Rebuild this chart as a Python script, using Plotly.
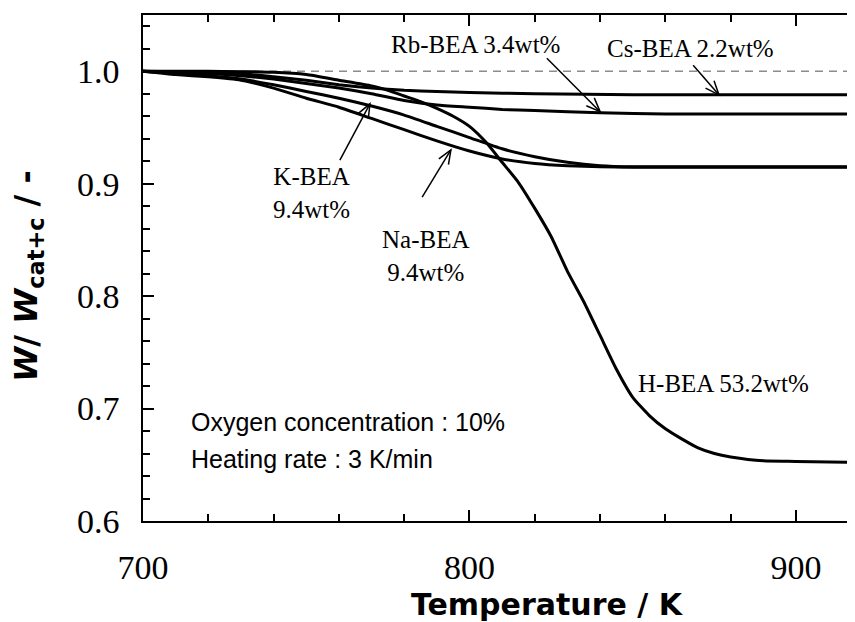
import math
import plotly.graph_objects as go

# ---- data ----
T_H = [700, 720, 740, 750, 760, 770, 775, 780, 785, 790, 795, 800, 805, 810, 815, 820, 825, 830, 835, 840, 845, 850, 855, 860, 865, 870, 875, 880, 890, 900, 920]
W_H = [1.000, 1.000, 0.999, 0.997, 0.992, 0.987, 0.983, 0.978, 0.973, 0.967, 0.960, 0.951, 0.937, 0.919, 0.901, 0.878, 0.853, 0.822, 0.795, 0.765, 0.735, 0.710, 0.694, 0.682, 0.673, 0.665, 0.660, 0.657, 0.6535, 0.653, 0.652]

T_Cs = [700, 720, 730, 740, 750, 760, 770, 780, 790, 800, 820, 850, 920]
W_Cs = [1.000, 0.999, 0.998, 0.995, 0.992, 0.988, 0.985, 0.983, 0.982, 0.981, 0.980, 0.979, 0.979]

T_Rb = [700, 720, 730, 740, 750, 760, 770, 780, 790, 800, 810, 820, 840, 860, 920]
W_Rb = [1.000, 0.998, 0.996, 0.993, 0.989, 0.985, 0.980, 0.974, 0.970, 0.968, 0.966, 0.965, 0.963, 0.962, 0.962]

T_K = [700, 710, 720, 730, 740, 750, 760, 770, 780, 790, 800, 810, 820, 830, 840, 850, 920]
W_K = [1.000, 0.998, 0.996, 0.993, 0.988, 0.982, 0.976, 0.969, 0.961, 0.951, 0.941, 0.931, 0.924, 0.919, 0.916, 0.915, 0.915]

T_Na = [700, 710, 720, 730, 740, 750, 760, 770, 780, 790, 800, 810, 820, 830, 840, 860, 920]
W_Na = [1.000, 0.997, 0.995, 0.992, 0.985, 0.976, 0.968, 0.958, 0.948, 0.938, 0.929, 0.922, 0.918, 0.916, 0.915, 0.9145, 0.9145]

series = [(T_H, W_H), (T_Cs, W_Cs), (T_Rb, W_Rb), (T_K, W_K), (T_Na, W_Na)]

X_RANGE = [700, 919.3]
Y_RANGE = [0.6, 1.05]

SERIF = "Liberation Serif, Times New Roman, serif"
SANS = "Liberation Sans, Arial, sans-serif"
HEAVY = "DejaVu Sans, Arial Black, sans-serif"

W_FIG, H_FIG = 855, 622
M = dict(l=135, r=4, t=7, b=109)
PX_X = (W_FIG - M["l"] - M["r"]) / (X_RANGE[1] - X_RANGE[0])
PX_Y = (H_FIG - M["t"] - M["b"]) / (Y_RANGE[1] - Y_RANGE[0])

fig = go.Figure()

fig.add_shape(type="line", xref="x", yref="y", x0=X_RANGE[0], x1=X_RANGE[1], y0=1.0, y1=1.0,
              line=dict(color="#8c8c8c", width=1.6, dash="8px,6px"), layer="below")

for tx, wy in series:
    fig.add_trace(go.Scatter(x=tx, y=wy, mode="lines", showlegend=False,
                             line=dict(color="black", width=3, shape="spline", smoothing=0.5)))

axis_common = dict(showline=True, linecolor="black", linewidth=1.5, mirror="ticks",
                   ticks="inside", tickcolor="black", tickwidth=1.5, ticklen=11,
                   showgrid=False, zeroline=False, automargin=False,
                   tickfont=dict(family=SERIF, size=34, color="black"))

fig.update_xaxes(range=X_RANGE, tick0=700, dtick=100, ticklabelstandoff=15,
                 minor=dict(ticks="inside", dtick=20, ticklen=7, tickcolor="black", tickwidth=1.5, showgrid=False),
                 **axis_common)
fig.update_yaxes(range=Y_RANGE, tick0=0.6, dtick=0.1, tickformat=".1f", ticklabelstandoff=15,
                 minor=dict(ticks="inside", dtick=0.02, ticklen=7, tickcolor="black", tickwidth=1.5, showgrid=False),
                 **axis_common)

anns = []
lab_font = dict(family=SERIF, size=25, color="black")
anns.append(dict(x=801.7, y=1.024, text="Rb-BEA 3.4wt%", font=lab_font))
anns.append(dict(x=867.8, y=1.0204, text="Cs-BEA 2.2wt%", font=lab_font))
anns.append(dict(x=751.5, y=0.8916, text="K-BEA<br>9.4wt%", font=lab_font))
anns.append(dict(x=786.4, y=0.8356, text="Na-BEA<br>9.4wt%", font=lab_font))
anns.append(dict(x=877.8, y=0.7227, text="H-BEA 53.2wt%", font=lab_font))
note_font = dict(family=SANS, size=25, color="black")
anns.append(dict(x=714.1, y=0.688, text="Oxygen concentration : 10%", font=note_font, xanchor="left"))
anns.append(dict(x=714.1, y=0.655, text="Heating rate : 3 K/min", font=note_font, xanchor="left"))
for a in anns:
    a.update(xref="x", yref="y", showarrow=False)
    a.setdefault("xanchor", "center")

# pointer arrows (head x,y ; tail x,y) drawn as open-V arrows
arrows = [
    (840.0, 0.964, 823.7, 1.0116),
    (876.4, 0.979, 868.5, 1.0053),
    (769.5, 0.971, 760.3, 0.921),
    (794.3, 0.930, 785.5, 0.888),
]
ARM_PX, HALF_ANG = 15, math.radians(22)
for hx, hy, tx_, ty_ in arrows:
    dx, dy = (tx_ - hx) * PX_X, (ty_ - hy) * PX_Y
    n = math.hypot(dx, dy)
    ux, uy = dx / n, dy / n
    pts = []
    for s in (1, -1):
        c, si = math.cos(s * HALF_ANG), math.sin(s * HALF_ANG)
        rx, ry = ux * c - uy * si, ux * si + uy * c
        pts.append((hx + rx * ARM_PX / PX_X, hy + ry * ARM_PX / PX_Y))
    fig.add_shape(type="line", xref="x", yref="y", x0=tx_, y0=ty_, x1=hx, y1=hy,
                  line=dict(color="black", width=1.5))
    path = f"M{pts[0][0]},{pts[0][1]} L{hx},{hy} L{pts[1][0]},{pts[1][1]}"
    fig.add_shape(type="path", xref="x", yref="y", path=path,
                  line=dict(color="black", width=1.5))

anns.append(dict(x=0.5656, y=-0.166, xref="paper", yref="paper", showarrow=False,
                 text="Temperature / K", xanchor="center", yanchor="middle",
                 font=dict(family=HEAVY, size=30, color="black", weight="bold")))
anns.append(dict(x=-0.1606, y=0.484, xref="paper", yref="paper", showarrow=False, textangle=-90,
                 text="<i>W</i>/ <i>W</i><sub>cat+c</sub> / -", xanchor="center", yanchor="middle",
                 font=dict(family=HEAVY, size=32, color="black", weight="bold")))

# the page body adds an 8px offset; margins compensate so the plot area lands where the reference has it
fig.update_layout(width=W_FIG, height=H_FIG, margin=dict(**M, autoexpand=False),
                  paper_bgcolor="white", plot_bgcolor="white", annotations=anns)

fig.write_html("out.html")
